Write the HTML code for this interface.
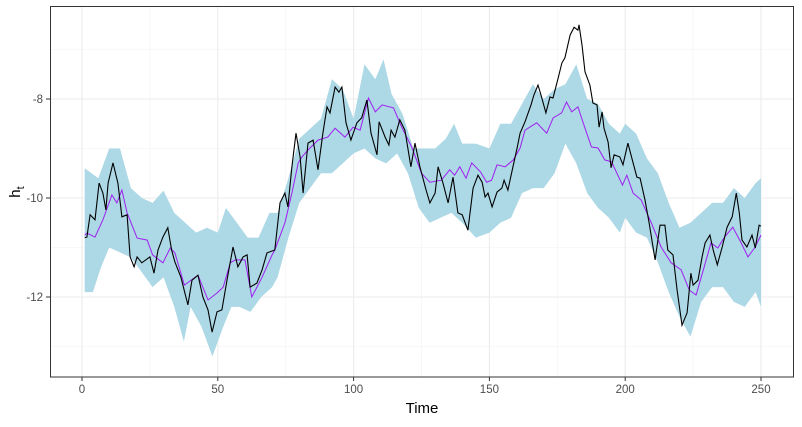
<!DOCTYPE html>
<html><head><meta charset="utf-8"><style>
body{margin:0;background:#fff}
svg text{font-family:"Liberation Sans",Arial,sans-serif}
</style></head><body>
<svg id="chart" width="802" height="422" xmlns="http://www.w3.org/2000/svg">
<rect width="802" height="422" fill="#fff"/>
<g id="grid"></g>
<g id="marks"></g>
<rect x="50.5" y="6.5" width="743" height="370.5" fill="none" stroke="#333" stroke-width="1"/>
<g id="axes"></g>
<text x="422" y="413" font-size="15" text-anchor="middle" fill="#000">Time</text>
<text transform="translate(20,192) rotate(-90)" font-size="15" text-anchor="middle" fill="#000">h<tspan font-size="11" dy="4">t</tspan></text>
</svg>
<script>
const truthT=[1,1.8,3,4.8,6.3,7.7,8.8,9.6,11.4,13.2,14.7,16.6,17.7,19.2,20.3,22,25,26.5,28,29.8,31.6,33,34.2,36.4,39,40.5,42.7,44.5,46.4,47.9,49.7,51.5,53.4,55.6,57.4,59.3,60.8,61.9,64.4,66.3,68.1,71,72.9,74.7,75.8,77.3,78.8,80.3,81.4,83.2,85.1,86.9,88.7,90.2,91.3,93.2,94.6,95.7,97.2,99,101.2,103,104.9,106.4,108.6,109.4,111.6,113,113.8,115.2,117,118.9,121.1,122.6,124.4,126.7,128.1,130,131.1,132.9,134.8,136.6,138.4,140,142.1,144,145.8,147.3,148.4,149.5,151,152.8,154.6,155.4,156.8,158,160.2,161.3,163.1,165.3,166.4,167.9,169,170.8,172.3,173.4,175.3,176.7,177.8,179.7,181.2,182.6,183,184.1,185.2,187,188.1,189.6,190.4,191.5,192.2,193.7,194.8,195.9,198,199.2,201,202.9,204.3,205.5,207.3,208.8,211,212.8,214.6,215.7,217.6,219.1,220.9,222.8,224.2,225,226.8,228.3,229.4,231.2,232.4,233.9,235.7,237.5,239.4,240.9,242,243,244.8,246.7,247.9,249.3,250];
const truthV=[-10.8,-10.79,-10.34,-10.44,-9.7,-9.9,-10.24,-9.7,-9.29,-9.7,-10.38,-10.34,-11.19,-11.39,-11.19,-11.31,-11.19,-11.52,-11.05,-10.79,-10.6,-11.05,-11.29,-11.6,-12.16,-11.66,-11.56,-12.0,-12.26,-12.71,-12.3,-12.26,-11.66,-10.99,-11.39,-11.19,-11.15,-11.8,-11.72,-11.45,-11.11,-11.05,-10.1,-9.9,-10.18,-9.37,-8.69,-9.17,-9.9,-8.89,-8.83,-9.43,-8.69,-8.16,-8.28,-7.76,-7.86,-7.76,-8.48,-8.83,-8.48,-8.38,-8.02,-8.69,-9.13,-8.46,-8.77,-8.93,-8.63,-8.77,-8.42,-8.63,-9.37,-8.89,-9.37,-9.84,-10.1,-9.9,-9.37,-9.7,-10.1,-9.58,-10.3,-10.34,-10.65,-9.8,-9.54,-9.68,-9.98,-9.9,-10.18,-9.88,-9.8,-9.64,-9.84,-9.54,-8.99,-8.69,-8.46,-8.12,-7.92,-7.72,-7.92,-8.28,-7.96,-7.98,-7.58,-7.27,-7.17,-6.71,-6.55,-6.61,-6.5,-6.91,-7.45,-7.72,-8.08,-8.12,-8.57,-8.26,-8.59,-8.87,-9.39,-9.13,-9.17,-9.33,-8.89,-9.29,-9.58,-9.6,-10.04,-10.5,-11.25,-10.55,-10.55,-11.05,-11.15,-11.86,-12.57,-12.32,-11.52,-11.76,-11.66,-11.19,-10.91,-10.75,-11.05,-11.35,-10.99,-10.59,-10.38,-9.9,-10.3,-10.85,-10.99,-10.75,-11.01,-10.55,-10.57];
const meanT=[1,1.8,4.8,7.7,11,12.8,14.7,16.6,20.3,24,26,29.8,32.5,34.2,37.7,42.7,46.4,49.7,52,54.6,56.4,60,62.5,66.3,70,71,74.7,77.3,79.6,81,83.2,86.9,90.5,93.2,96.8,99.8,102.4,105.5,108,110.5,114.7,117.7,121.4,125,128.1,132.3,135.4,137.2,139.1,141.4,143.5,146.7,149,150.8,152.8,155.8,158.8,161.3,163.1,167.4,171.1,173.5,176.6,178.4,180.3,182.6,185.2,187.6,190,192.5,195,199,200.6,202.9,205.9,209.6,213.2,216.9,220.6,223.6,226.1,229.1,231.6,234.1,236.6,239.6,242.7,245.2,247.6,250];
const meanV=[-10.75,-10.71,-10.79,-10.44,-9.94,-10.1,-9.84,-10.3,-10.81,-10.85,-11.15,-11.31,-11.01,-11.11,-11.76,-11.56,-12.06,-11.92,-11.8,-11.31,-11.25,-11.25,-12.0,-11.6,-11.15,-11.05,-10.5,-9.9,-9.29,-9.17,-9.03,-8.83,-8.77,-8.59,-8.77,-8.57,-8.63,-7.98,-8.26,-8.12,-8.18,-8.57,-8.97,-9.5,-9.68,-9.64,-9.43,-9.54,-9.37,-9.6,-9.29,-9.47,-9.68,-9.64,-9.33,-9.37,-9.23,-8.99,-8.63,-8.48,-8.69,-8.38,-8.28,-8.06,-8.26,-8.16,-8.59,-8.97,-8.99,-9.23,-9.27,-9.74,-9.54,-9.9,-10.04,-10.5,-10.99,-11.31,-11.45,-11.86,-11.96,-11.39,-10.91,-11.01,-10.79,-10.59,-10.91,-11.19,-11.01,-10.75];
const upT=[1,6,10,14,18,22,26,30,34,38,42,46,50,53,57,61,65,69,72,76,80,84,88,92,96,100,104,108,111,114,118,122,126,130,134,137,140,145,150,154,158,162,166,170,174,178,182,186,190,194,198,200,204,208,212,216,220,224,228,232,236,240,244,248,250];
const upV=[-9.4,-9.6,-9.0,-9.0,-9.8,-10.0,-10.1,-9.85,-10.3,-10.5,-10.7,-10.6,-10.7,-10.2,-10.5,-10.8,-10.8,-10.3,-10.3,-9.6,-8.8,-8.6,-8.4,-7.6,-7.8,-8.4,-7.3,-7.6,-7.2,-7.9,-8.3,-9.0,-9.0,-9.0,-8.8,-8.5,-8.9,-8.9,-9.0,-8.5,-8.5,-8.1,-7.7,-8.0,-7.8,-7.7,-7.3,-8.0,-8.1,-8.5,-8.7,-8.5,-8.7,-9.2,-9.5,-10.1,-10.6,-10.5,-10.3,-10.1,-10.1,-9.8,-10.0,-9.7,-9.6];
const loT=[1,4,7,10,14,18,22,26,30,34,37.5,40,44,48,52,55,58,62,66,70,72,76,80,84,88,92,96,100,104,108,112,116,120,124,128,132,136,140,145,150,154,158,162,166,170,174,178,182,186,190,194,198,200,204,208,212,216,220,224,228,232,236,240,244,248,250];
const loV=[-11.9,-11.9,-11.4,-11.0,-11.1,-11.2,-11.5,-11.8,-11.6,-12.2,-12.9,-12.2,-12.6,-13.2,-12.6,-12.2,-12.2,-12.3,-12.0,-11.8,-11.6,-10.8,-10.1,-9.8,-9.5,-9.5,-9.3,-9.1,-9.0,-9.2,-9.3,-9.1,-9.5,-10.2,-10.5,-10.4,-10.3,-10.5,-10.8,-10.7,-10.5,-10.4,-9.9,-9.8,-9.8,-9.5,-8.9,-9.3,-9.9,-10.2,-10.4,-10.7,-10.4,-10.7,-10.8,-11.3,-11.9,-12.4,-12.8,-12.1,-11.8,-11.8,-12.1,-12.2,-11.9,-12.2];
const xTicks=[0,50,100,150,200,250];
const xMinor=[25,75,125,175,225];
const yTicks=[-8,-10,-12];
const yMinor=[-7,-9,-11,-13];

const X=t=>82+t*2.716;
const Y=v=>99-(v+8)*49.5;
const NS='http://www.w3.org/2000/svg';
function mk(tag,parent){const e=document.createElementNS(NS,tag);parent.appendChild(e);return e;}
const grid=document.getElementById('grid'),marks=document.getElementById('marks'),axes=document.getElementById('axes');
xMinor.forEach(t=>{const l=mk('line',grid);


l.setAttribute('x1',X(t));l.setAttribute('x2',X(t));l.setAttribute('y1',6);l.setAttribute('y2',377);l.setAttribute('stroke','#f2f2f2');l.setAttribute('stroke-width','0.6');});
yMinor.forEach(v=>{const l=mk('line',grid);


l.setAttribute('x1',50);l.setAttribute('x2',794);l.setAttribute('y1',Y(v));l.setAttribute('y2',Y(v));l.setAttribute('stroke','#f2f2f2');l.setAttribute('stroke-width','0.6');});
xTicks.forEach(t=>{const l=mk('line',grid);


l.setAttribute('x1',X(t));l.setAttribute('x2',X(t));l.setAttribute('y1',6);l.setAttribute('y2',377);l.setAttribute('stroke','#ebebeb');l.setAttribute('stroke-width','1.1');
const k=mk('line',axes);


k.setAttribute('x1',X(t));k.setAttribute('x2',X(t));k.setAttribute('y1',377);k.setAttribute('y2',381);k.setAttribute('stroke','#333');
const tx=mk('text',axes);


tx.setAttribute('x',X(t));tx.setAttribute('y',393);tx.setAttribute('font-size','11.5');tx.setAttribute('fill','#4d4d4d');tx.setAttribute('text-anchor','middle');tx.textContent=t;});
yTicks.forEach(v=>{const l=mk('line',grid);


l.setAttribute('x1',50);l.setAttribute('x2',794);l.setAttribute('y1',Y(v));l.setAttribute('y2',Y(v));l.setAttribute('stroke','#ebebeb');l.setAttribute('stroke-width','1.1');
const k=mk('line',axes);


k.setAttribute('x1',46);k.setAttribute('x2',50);k.setAttribute('y1',Y(v));k.setAttribute('y2',Y(v));k.setAttribute('stroke','#333');
const tx=mk('text',axes);


tx.setAttribute('x',43);tx.setAttribute('y',Y(v)+4);tx.setAttribute('font-size','11.5');tx.setAttribute('fill','#4d4d4d');tx.setAttribute('text-anchor','end');tx.textContent=v;});
let d='M'+upT.map((t,i)=>X(t).toFixed(1)+','+Y(upV[i]).toFixed(1)).join('L');
for(let i=loT.length-1;i>=0;i--)d+='L'+X(loT[i]).toFixed(1)+','+Y(loV[i]).toFixed(1);
const band=mk('path',marks);


band.setAttribute('d',d+'Z');band.setAttribute('fill','#add8e6');
const pm=mk('path',marks);


pm.setAttribute('d','M'+meanT.map((t,i)=>X(t).toFixed(1)+','+Y(meanV[i]).toFixed(1)).join('L'));pm.setAttribute('fill','none');pm.setAttribute('stroke','#a020f0');pm.setAttribute('stroke-width','1');
const tl=mk('path',marks);


tl.setAttribute('d','M'+truthT.map((t,i)=>X(t).toFixed(1)+','+Y(truthV[i]).toFixed(1)).join('L'));tl.setAttribute('fill','none');tl.setAttribute('stroke','#000');tl.setAttribute('stroke-width','1.1');
</script>
</body></html>
